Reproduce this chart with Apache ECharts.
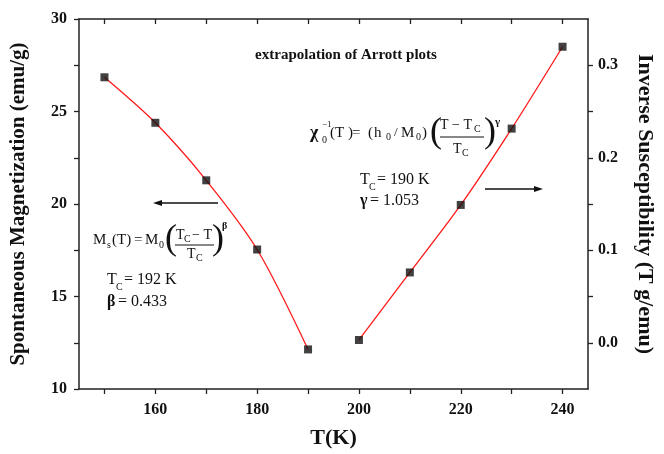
<!DOCTYPE html>
<html>
<head>
<meta charset="utf-8">
<script src="https://cdn.jsdelivr.net/npm/echarts@6/dist/echarts.min.js"></script>
<style>
  html, body { margin: 0; padding: 0; background: #fff; }
  #chart { width: 664px; height: 454px; }
</style>
</head>
<body>
<div id="chart"></div>
<script>
// data
const tempLow = [150, 160, 170, 180, 190]
const magnetization = [26.85, 24.39, 21.28, 17.54, 12.14]
const tempHigh = [200, 210, 220, 230, 240]
const inverseChi = [0.003, 0.076, 0.149, 0.2315, 0.32]

const xTicks = [150, 160, 170, 180, 190, 200, 210, 220, 230, 240]
const xLabels = [160, 180, 200, 220, 240]
const leftTicks = [10, 12.5, 15, 17.5, 20, 22.5, 25, 27.5, 30]
const leftLabels = [10, 15, 20, 25, 30]
const rightTicks = [0, 0.05, 0.1, 0.15, 0.2, 0.25, 0.3]
const rightLabels = [0, 0.1, 0.2, 0.3]

const SERIF = '"Liberation Serif", "DejaVu Serif", serif'
const AXIS_COLOR = '#222'

const lowPairs = tempLow.map((t, i) => [t, magnetization[i]])
const highPairs = tempHigh.map((t, i) => [t, inverseChi[i]])

// small helper for the text annotations
function txt(x, y, text, size, opts) {
  opts = opts || {}
  return {
    type: 'text',
    x: x,
    y: y,
    z: 10,
    style: {
      text: text,
      fill: '#111',
      font: (opts.bold ? 'bold ' : '') + size + 'px ' + SERIF,
      textAlign: opts.align || 'left',
      textVerticalAlign: 'middle'
    }
  }
}

function arrow(x1, x2, y) {
  const dir = x2 > x1 ? 1 : -1
  return [
    { type: 'line', z: 10, shape: { x1: x1, y1: y, x2: x2 - dir * 6, y2: y }, style: { stroke: '#111', lineWidth: 1.3 } },
    { type: 'polygon', z: 10, shape: { points: [[x2, y], [x2 - dir * 9, y - 3], [x2 - dir * 9, y + 3]] }, style: { fill: '#111' } }
  ]
}

const graphics = [
  txt(346, 55, 'extrapolation of Arrott plots', 15, { bold: true, align: 'center' }),

  // right formula
  txt(310, 133, 'χ', 18, { bold: true }),
  txt(322, 140, '0', 10),
  txt(322, 125, '−1', 9),
  txt(330, 133, '(T )', 15),
  txt(352, 133, '=', 15),
  txt(368, 133, '(', 15),
  txt(374, 133, 'h', 15),
  txt(386, 137, '0', 10),
  txt(394, 133, '/', 13),
  txt(401, 133, 'M', 15),
  txt(416, 137, '0', 10),
  txt(422, 133, ')', 15),
  txt(430, 133, '(', 36),
  txt(440, 125, 'T − T', 14),
  txt(474, 129, 'C', 10),
  { type: 'line', z: 10, shape: { x1: 440, y1: 137, x2: 484, y2: 137 }, style: { stroke: '#111', lineWidth: 1 } },
  txt(453, 149, 'T', 14),
  txt(462, 153, 'C', 10),
  txt(484, 133, ')', 36),
  txt(495, 122, 'γ', 11, { bold: true }),
  txt(360, 180, 'T', 16),
  txt(369, 187, 'C', 10),
  txt(377, 180, '= 190 K', 16),
  txt(360, 201, 'γ', 16, { bold: true }),
  txt(370, 201, '= 1.053', 16),

  // left formula
  txt(93, 240, 'M', 15),
  txt(107, 245, 's', 10),
  txt(112, 240, '(T)', 15),
  txt(134, 240, '=', 15),
  txt(145, 240, 'M', 15),
  txt(159, 245, '0', 10),
  txt(165, 240, '(', 36),
  txt(176, 235, 'T', 14),
  txt(184, 239, 'C', 10),
  txt(192, 235, '− T', 14),
  { type: 'line', z: 10, shape: { x1: 175, y1: 245, x2: 214, y2: 245 }, style: { stroke: '#111', lineWidth: 1 } },
  txt(187, 254, 'T', 14),
  txt(196, 258, 'C', 10),
  txt(212, 240, ')', 36),
  txt(222, 226, 'β', 10, { bold: true }),
  txt(107, 280, 'T', 16),
  txt(116, 287, 'C', 10),
  txt(124, 280, '= 192 K', 16),
  txt(107, 302, 'β', 16, { bold: true }),
  txt(118, 302, '= 0.433', 16)
].concat(arrow(218, 153, 203), arrow(485, 543, 189))

const chart = echarts.init(document.getElementById('chart'))
chart.setOption({
  backgroundColor: '#fff',
  animation: false,
  grid: { left: 78, right: 75, top: 19, bottom: 61 },
  textStyle: { fontFamily: SERIF },
  graphic: graphics,
  xAxis: [
    {
      type: 'value', min: 145, max: 245, position: 'bottom',
      name: 'T(K)', nameLocation: 'middle', nameGap: 38,
      nameTextStyle: { fontFamily: SERIF, fontWeight: 'bold', fontSize: 22, color: '#111' },
      axisLine: { show: true, onZero: false, lineStyle: { color: AXIS_COLOR, width: 1.5 } },
      axisTick: { show: true, length: 5, customValues: xTicks, lineStyle: { color: AXIS_COLOR, width: 1.3 } },
      axisLabel: { customValues: xLabels, margin: 13, fontFamily: SERIF, fontWeight: 'bold', fontSize: 16, color: '#111' },
      splitLine: { show: false }
    },
    {
      type: 'value', min: 145, max: 245, position: 'top',
      axisLine: { show: true, onZero: false, lineStyle: { color: AXIS_COLOR, width: 1.5 } },
      axisTick: { show: true, inside: true, length: 5, customValues: xTicks, lineStyle: { color: AXIS_COLOR, width: 1.3 } },
      axisLabel: { show: false },
      splitLine: { show: false }
    }
  ],
  yAxis: [
    {
      type: 'value', min: 10, max: 30, position: 'left',
      name: 'Spontaneous Magnetization (emu/g)', nameLocation: 'middle', nameGap: 50,
      nameTextStyle: { fontFamily: SERIF, fontWeight: 'bold', fontSize: 21, color: '#111' },
      axisLine: { show: true, onZero: false, lineStyle: { color: AXIS_COLOR, width: 1.5 } },
      axisTick: { show: true, length: 5, customValues: leftTicks, lineStyle: { color: AXIS_COLOR, width: 1.3 } },
      axisLabel: { customValues: leftLabels, margin: 12, fontFamily: SERIF, fontWeight: 'bold', fontSize: 16, color: '#111' },
      splitLine: { show: false }
    },
    {
      type: 'value', min: -0.05, max: 0.35, position: 'right',
      name: 'Inverse Susceptibility (T g/emu)', nameLocation: 'middle', nameGap: 46, nameRotate: -90,
      nameTextStyle: { fontFamily: SERIF, fontWeight: 'bold', fontSize: 22, color: '#111' },
      axisLine: { show: true, onZero: false, lineStyle: { color: AXIS_COLOR, width: 1.5 } },
      axisTick: { show: true, length: 5, customValues: rightTicks, lineStyle: { color: AXIS_COLOR, width: 1.3 } },
      axisLabel: {
        customValues: rightLabels, margin: 10, fontFamily: SERIF, fontWeight: 'bold', fontSize: 16, color: '#111',
        formatter: v => v.toFixed(1)
      },
      splitLine: { show: false }
    }
  ],
  series: [
    {
      type: 'line', xAxisIndex: 0, yAxisIndex: 0, data: lowPairs, smooth: 0.3,
      symbol: 'none', lineStyle: { color: '#ff1a1a', width: 1.3 }
    },
    {
      type: 'scatter', xAxisIndex: 0, yAxisIndex: 0, data: lowPairs,
      symbol: 'rect', symbolSize: 8, itemStyle: { color: '#111' }, z: 5
    },
    {
      type: 'line', xAxisIndex: 0, yAxisIndex: 1, data: highPairs, smooth: 0.3,
      symbol: 'none', lineStyle: { color: '#ff1a1a', width: 1.3 }
    },
    {
      type: 'scatter', xAxisIndex: 0, yAxisIndex: 1, data: highPairs,
      symbol: 'rect', symbolSize: 8, itemStyle: { color: '#111' }, z: 5
    }
  ]
})
</script>
</body>
</html>
